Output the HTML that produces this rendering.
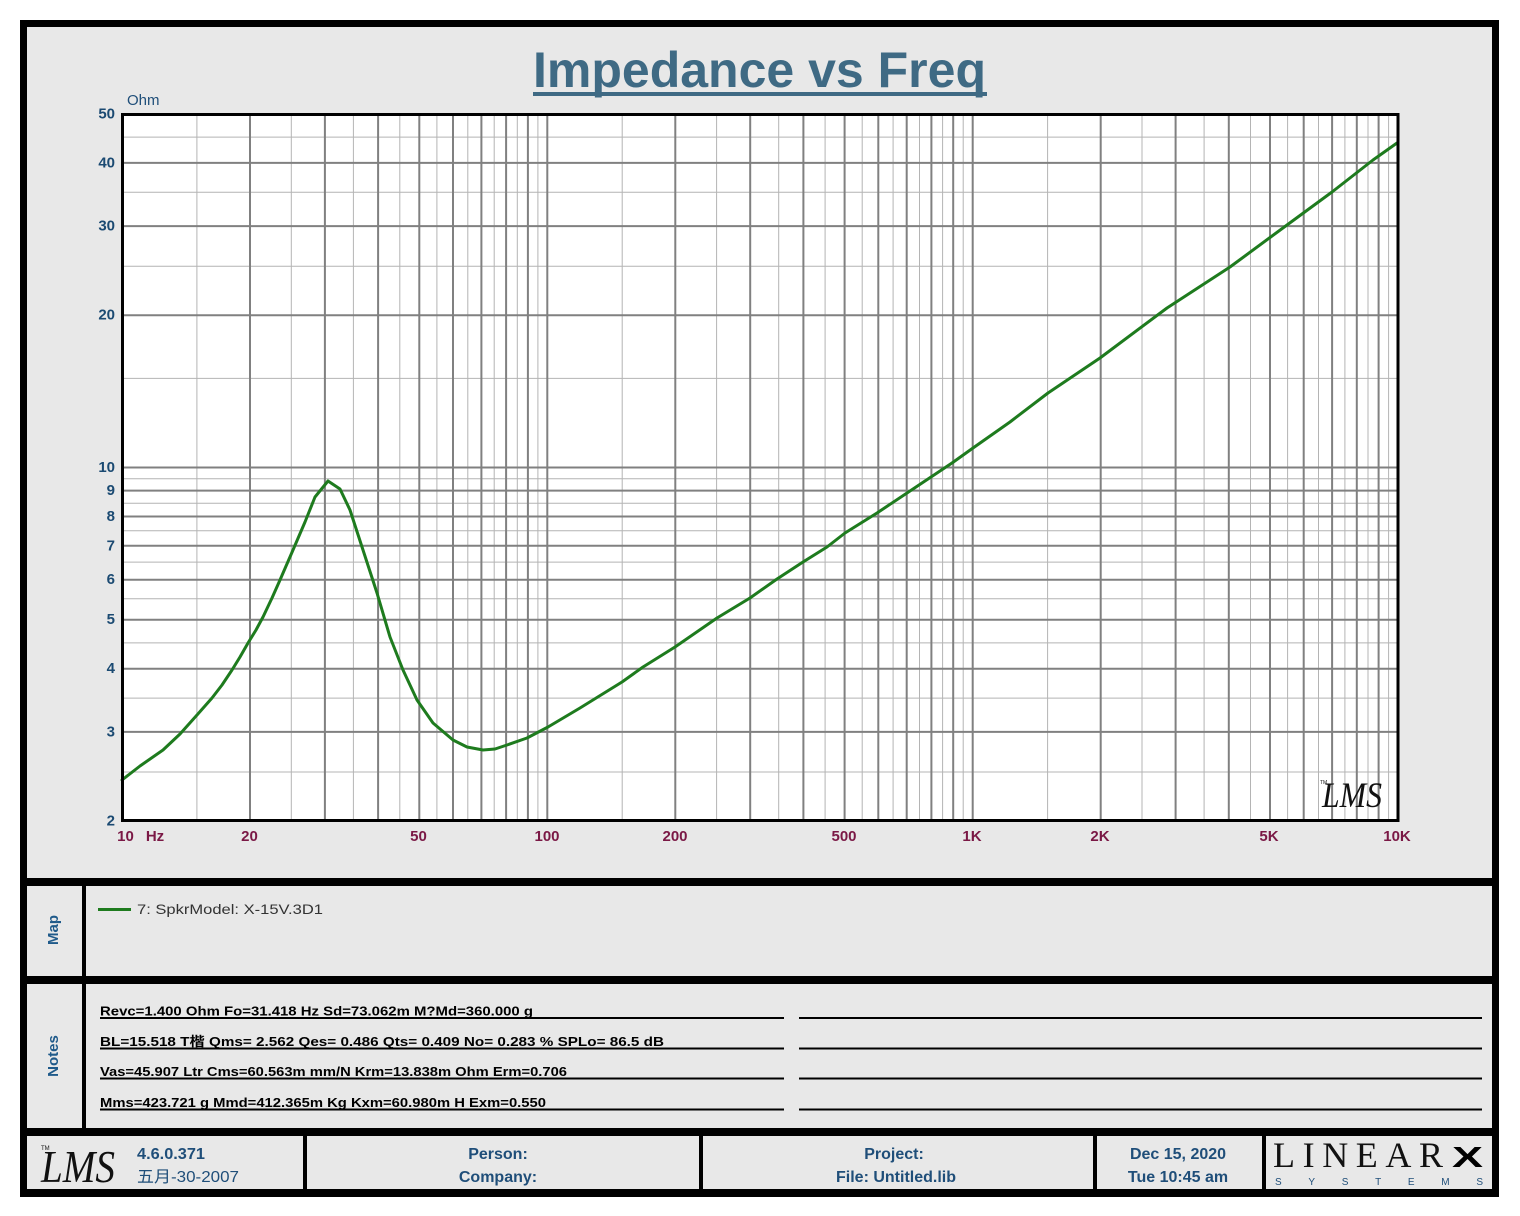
<!DOCTYPE html>
<html><head><meta charset="utf-8"><style>
html,body{margin:0;padding:0;background:#fff;}
svg{display:block;}
text{font-family:"Liberation Sans","Noto Sans CJK SC",sans-serif;}
</style></head><body>
<svg width="1520" height="1216" viewBox="0 0 1520 1216" xmlns="http://www.w3.org/2000/svg">
<rect x="0" y="0" width="1520" height="1216" fill="#fff"/>
<!-- outer frame -->
<rect x="20" y="20" width="1479" height="1177" fill="#000"/>
<rect x="27" y="27" width="1465" height="851" fill="#e8e8e8"/>
<rect x="27" y="886" width="55" height="90" fill="#e8e8e8"/>
<rect x="86" y="886" width="1406" height="90" fill="#e8e8e8"/>
<rect x="27" y="984" width="55" height="144" fill="#e8e8e8"/>
<rect x="86" y="984" width="1406" height="144" fill="#e8e8e8"/>
<rect x="27" y="1136" width="276" height="53" fill="#e8e8e8"/>
<rect x="307" y="1136" width="392" height="53" fill="#e8e8e8"/>
<rect x="703" y="1136" width="390" height="53" fill="#e8e8e8"/>
<rect x="1097" y="1136" width="165" height="53" fill="#e8e8e8"/>
<rect x="1266" y="1136" width="226" height="53" fill="#e8e8e8"/>

<!-- title -->
<text x="533" y="87" font-size="50" font-weight="bold" fill="#3f6a84" textLength="453" lengthAdjust="spacingAndGlyphs">Impedance vs Freq</text>
<rect x="533" y="92" width="454" height="4" fill="#3f6a84"/>

<!-- plot area -->
<rect x="122" y="114" width="1276" height="707" fill="#fff"/>
<path fill="none" stroke="#b4b4b4" stroke-width="1" d="M196.9 114V821M291.3 114V821M353.4 114V821M399.8 114V821M436.9 114V821M467.8 114V821M494.2 114V821M517.3 114V821M537.9 114V821M622.2 114V821M716.6 114V821M778.7 114V821M825.1 114V821M862.2 114V821M893.1 114V821M919.5 114V821M942.6 114V821M963.2 114V821M1047.6 114V821M1142 114V821M1204.1 114V821M1250.5 114V821M1287.6 114V821M1318.5 114V821M1344.9 114V821M1368 114V821M1388.6 114V821
M122 772H1398M122 698.1H1398M122 642.9H1398M122 598.8H1398M122 562.1H1398M122 530.7H1398M122 503.2H1398M122 478.7H1398M122 378.4H1398M122 266.2H1398M122 192.3H1398M122 137.1H1398"/>
<path fill="none" stroke="#808080" stroke-width="2" d="M250 114V821M324.9 114V821M378.1 114V821M419.3 114V821M453 114V821M481.4 114V821M506.1 114V821M527.9 114V821M547.3 114V821M675.3 114V821M750.2 114V821M803.4 114V821M844.6 114V821M878.3 114V821M906.7 114V821M931.4 114V821M953.2 114V821M972.7 114V821M1100.7 114V821M1175.6 114V821M1228.8 114V821M1270 114V821M1303.7 114V821M1332.1 114V821M1356.8 114V821M1378.6 114V821
M122 731.9H1398M122 668.7H1398M122 619.7H1398M122 579.7H1398M122 545.8H1398M122 516.5H1398M122 490.6H1398M122 467.5H1398M122 315.2H1398M122 226.1H1398M122 162.9H1398"/>

<!-- curve -->
<polyline fill="none" stroke="#1e7b1e" stroke-width="3" stroke-linejoin="round" stroke-linecap="round" points="122,780 140,766 163,750 180,734 197,715 212,698 222,685 232,670 240,657 248,643 256,630 263,617 272,598 280,580 293,550 305,522 315,497 328,481 340,489 350,510 363,550 377,593 390,637 403,670 417,700 433,723 453,740 467,747 483,750 495,749 507,745 527,738 548,727 580,708 622,682 643,667 675,647 717,618 750,598 777,579 803,562 827,547 845,533 877,513 907,493 952,463 973,448 1010,422 1048,393 1100,358 1167,308 1230,267 1287,225 1332,192 1373,160 1397,143"/>

<rect x="122.5" y="114.5" width="1275.5" height="706" fill="none" stroke="#000" stroke-width="3"/>

<!-- LMS logo in plot -->
<text x="1322" y="807" style="font-family:'Liberation Serif',serif;font-style:italic" font-size="36" fill="#111" textLength="60" lengthAdjust="spacingAndGlyphs">LMS</text>
<text x="1320" y="784" font-size="5" fill="#111">TM</text>

<!-- Y axis -->
<text x="127" y="105" font-size="15" fill="#1f4e79">Ohm</text>
<g font-size="15" font-weight="bold" fill="#1b4a72" text-anchor="end">
<text x="115" y="118.5">50</text>
<text x="115" y="167.5">40</text>
<text x="115" y="230.5">30</text>
<text x="115" y="319.5">20</text>
<text x="115" y="472">10</text>
<text x="115" y="495">9</text>
<text x="115" y="521">8</text>
<text x="115" y="550.3">7</text>
<text x="115" y="584.2">6</text>
<text x="115" y="624.2">5</text>
<text x="115" y="673.2">4</text>
<text x="115" y="736.4">3</text>
<text x="115" y="825.5">2</text>
</g>
<!-- X axis -->
<g font-size="15" font-weight="bold" fill="#7a1845" text-anchor="middle">
<text x="125.5" y="841">10</text>
<text x="155" y="841">Hz</text>
<text x="249.5" y="841">20</text>
<text x="418.5" y="841">50</text>
<text x="547" y="841">100</text>
<text x="675" y="841">200</text>
<text x="844" y="841">500</text>
<text x="972" y="841">1K</text>
<text x="1100" y="841">2K</text>
<text x="1269" y="841">5K</text>
<text x="1397" y="841">10K</text>
</g>

<!-- Map -->
<text transform="translate(58,930) rotate(-90)" text-anchor="middle" font-size="15" font-weight="bold" fill="#1f5a8a">Map</text>
<rect x="98" y="908" width="33" height="3" fill="#1e7b1e"/>
<text x="137" y="914" font-size="14" fill="#333" textLength="186" lengthAdjust="spacingAndGlyphs">7: SpkrModel: X-15V.3D1</text>

<!-- Notes -->
<text transform="translate(58,1056) rotate(-90)" text-anchor="middle" font-size="15" font-weight="bold" fill="#1f5a8a">Notes</text>
<g font-size="13" font-weight="bold" fill="#000" style="white-space:pre" xml:space="preserve">
<text x="100" y="1015.5" textLength="433" lengthAdjust="spacingAndGlyphs">Revc=1.400 Ohm  Fo=31.418 Hz  Sd=73.062m M?Md=360.000 g</text>
<text x="100" y="1046" textLength="564" lengthAdjust="spacingAndGlyphs">BL=15.518 T楷  Qms= 2.562  Qes= 0.486  Qts= 0.409  No= 0.283 %  SPLo= 86.5 dB</text>
<text x="100" y="1076" textLength="467" lengthAdjust="spacingAndGlyphs">Vas=45.907 Ltr  Cms=60.563m mm/N  Krm=13.838m Ohm  Erm=0.706</text>
<text x="100" y="1107" textLength="446" lengthAdjust="spacingAndGlyphs">Mms=423.721 g  Mmd=412.365m Kg  Kxm=60.980m H  Exm=0.550</text>
</g>
<path stroke="#000" stroke-width="2" d="M100 1018H784M799 1018H1482M100 1048.5H784M799 1048.5H1482M100 1078.5H784M799 1078.5H1482M100 1109.5H784M799 1109.5H1482"/>

<!-- Footer -->
<text x="41" y="1182" style="font-family:'Liberation Serif',serif;font-style:italic" font-size="46" fill="#111" textLength="74" lengthAdjust="spacingAndGlyphs">LMS</text>
<text x="41" y="1150" font-size="6" fill="#111">TM</text>
<g font-size="16" font-weight="bold" fill="#1f4e79">
<text x="137" y="1159" textLength="68" lengthAdjust="spacingAndGlyphs">4.6.0.371</text>
<text x="137" y="1182" textLength="102" lengthAdjust="spacingAndGlyphs" font-weight="normal">五月-30-2007</text>
<text x="498" y="1159" text-anchor="middle">Person:</text>
<text x="498" y="1182" text-anchor="middle">Company:</text>
<text x="894" y="1159" text-anchor="middle">Project:</text>
<text x="896" y="1182" text-anchor="middle">File: Untitled.lib</text>
<text x="1178" y="1159" text-anchor="middle">Dec 15, 2020</text>
<text x="1178" y="1182" text-anchor="middle">Tue 10:45 am</text>
</g>
<!-- LinearX logo -->
<text x="1273" y="1167" style="font-family:'Liberation Serif',serif" font-size="36" fill="#111" textLength="170" lengthAdjust="spacing">LINEAR</text>
<text x="1452" y="1167" font-size="29" font-weight="bold" fill="#000" textLength="31" lengthAdjust="spacingAndGlyphs">X</text>
<text x="1275" y="1185" font-size="10" fill="#1f4e79" textLength="208" lengthAdjust="spacing">SYSTEMS</text>
</svg>
</body></html>
